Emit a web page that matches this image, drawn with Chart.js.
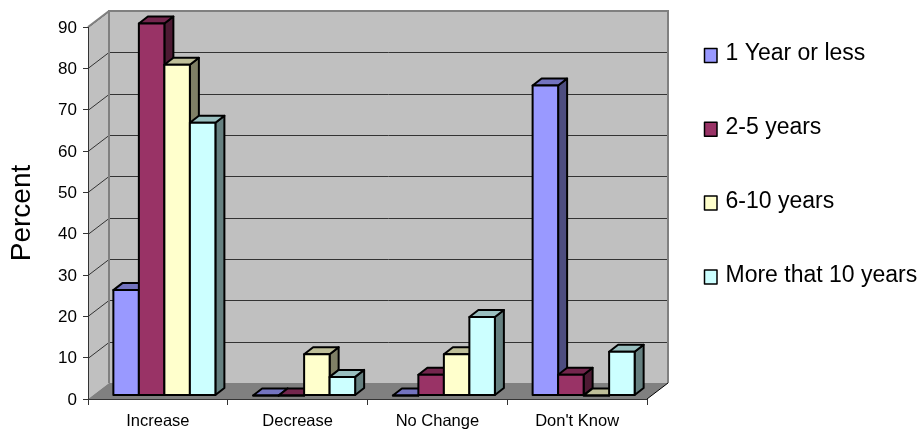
<!DOCTYPE html>
<html>
<head>
<meta charset="utf-8">
<style>
  html, body { margin: 0; padding: 0; background: #fff; }
  #wrap { width: 922px; height: 433px; }
</style>
<script src="https://cdn.jsdelivr.net/npm/chart.js@4"></script>
</head>
<body>
<div id="wrap"><canvas id="chart" width="922" height="433"></canvas></div>
<script>
var categories = ['Increase', 'Decrease', 'No Change', "Don't Know"];
var seriesNames = ['1 Year or less', '2-5 years', '6-10 years', 'More that 10 years'];
var oneYearOrLess = [25.5, 0, 0, 75];
var twoToFive = [90, 0, 5, 5];
var sixToTen = [80, 10, 10, 0];
var moreThanTen = [66, 4.5, 19, 10.6];
var yTicks = [0, 10, 20, 30, 40, 50, 60, 70, 80, 90];

var fronts = ['#9999ff', '#993366', '#ffffcc', '#ccffff'];
var tops = ['#7373bf', '#73264d', '#bfbf99', '#99bfbf'];
var sides = ['#4d4d80', '#4d1a33', '#808066', '#668080'];
var allValues = [oneYearOrLess, twoToFive, sixToTen, moreThanTen];

var FONT = '"Liberation Sans", Arial, sans-serif';

// depth of the room, and where the bars stand inside it
var DEPTH_X = 21, DEPTH_Y = -16;
var BAR_X = 6.5, BAR_Y = -3.5;
var BAR_DX = 9, BAR_DY = -7;
var BAR_LINE = 2;

function poly(ctx, pts, fill, stroke, lw) {
  ctx.beginPath();
  ctx.moveTo(pts[0][0], pts[0][1]);
  for (var i = 1; i < pts.length; i++) {
    ctx.lineTo(pts[i][0], pts[i][1]);
  }
  ctx.closePath();
  if (fill) {
    ctx.fillStyle = fill;
    ctx.fill();
  }
  if (stroke) {
    ctx.strokeStyle = stroke;
    ctx.lineWidth = lw;
    ctx.lineJoin = 'round';
    ctx.stroke();
  }
}

var roomPlugin = {
  id: 'room',
  beforeDraw: function(chart) {
    var ctx = chart.ctx, a = chart.chartArea;
    var l = a.left, r = a.right, t = a.top, b = a.bottom;
    var dx = DEPTH_X, dy = DEPTH_Y;
    ctx.save();
    // side wall, back wall, floor
    poly(ctx, [[l, t], [l + dx, t + dy], [l + dx, b + dy], [l, b]], '#c0c0c0');
    poly(ctx, [[l + dx, t + dy], [r + dx, t + dy], [r + dx, b + dy], [l + dx, b + dy]], '#c0c0c0');
    poly(ctx, [[l, b], [l + dx, b + dy], [r + dx, b + dy], [r, b]], '#808080');

    // grid lines run across the side wall and then the back wall
    var ys = chart.scales.y;
    ctx.strokeStyle = '#333333';
    ctx.lineWidth = 1;
    yTicks.forEach(function(v) {
      if (v === 0) return;
      var y = Math.round(ys.getPixelForValue(v)) + 0.5;
      ctx.beginPath();
      ctx.moveTo(l, y);
      ctx.lineTo(l + dx, y + dy);
      ctx.lineTo(r + dx, y + dy);
      ctx.stroke();
    });

    // wall outline
    ctx.strokeStyle = '#808080';
    ctx.lineWidth = 2;
    ctx.beginPath();
    ctx.moveTo(l + dx, b + dy);
    ctx.lineTo(l + dx, t + dy);
    ctx.lineTo(r + dx, t + dy);
    ctx.lineTo(r + dx, b + dy);
    ctx.moveTo(l, t);
    ctx.lineTo(l + dx, t + dy);
    ctx.stroke();
    ctx.restore();
  },
  // series go back to front, so each bar's side is hidden by the next one
  beforeDatasetsDraw: function(chart) {
    var ctx = chart.ctx;
    ctx.save();
    ctx.translate(BAR_X, BAR_Y);
    seriesNames.forEach(function(name, i) {
      var meta = chart.getDatasetMeta(i);
      meta.data.forEach(function(bar) {
        var x0 = bar.x - bar.width / 2, x1 = bar.x + bar.width / 2;
        var y0 = bar.y, yb = bar.base;
        poly(ctx, [[x1, y0], [x1 + BAR_DX, y0 + BAR_DY], [x1 + BAR_DX, yb + BAR_DY], [x1, yb]], sides[i], '#000000', BAR_LINE);
        poly(ctx, [[x0, y0], [x0 + BAR_DX, y0 + BAR_DY], [x1 + BAR_DX, y0 + BAR_DY], [x1, y0]], tops[i], '#000000', BAR_LINE);
      });
      meta.controller.draw();
      // outline sits centred on the bar's edge so neighbours share one line
      meta.data.forEach(function(bar) {
        var x0 = bar.x - bar.width / 2, x1 = bar.x + bar.width / 2;
        poly(ctx, [[x0, bar.y], [x1, bar.y], [x1, bar.base], [x0, bar.base]], null, '#000000', BAR_LINE);
      });
    });
    ctx.restore();
    return false;
  },
  afterDraw: function(chart) {
    // floor edge at the right hand side
    var ctx = chart.ctx, a = chart.chartArea;
    ctx.save();
    ctx.strokeStyle = '#000000';
    ctx.lineWidth = 1;
    ctx.beginPath();
    ctx.moveTo(a.right, a.bottom);
    ctx.lineTo(a.right + DEPTH_X, a.bottom + DEPTH_Y);
    ctx.stroke();
    ctx.restore();

    // legend
    ctx.save();
    ctx.font = '23px ' + FONT;
    ctx.textBaseline = 'middle';
    ctx.textAlign = 'left';
    seriesNames.forEach(function(name, i) {
      var y = 54 + i * 73.8;
      poly(ctx, [[704.5, y - 5.5], [717, y - 5.5], [717, y + 8.5], [704.5, y + 8.5]], fronts[i], '#000000', 1.5);
      ctx.fillStyle = '#000000';
      ctx.fillText(name, 725.5, y);
    });
    ctx.restore();
  }
};

new Chart(document.getElementById('chart'), {
  type: 'bar',
  data: {
    labels: categories,
    datasets: seriesNames.map(function(name, i) {
      return {
        label: name,
        data: allValues[i],
        backgroundColor: fronts[i],
        borderWidth: 0,
        barPercentage: 1,
        categoryPercentage: 0.73
      };
    })
  },
  plugins: [roomPlugin],
  options: {
    responsive: false,
    animation: false,
    layout: { padding: { left: 0, right: 275, top: 27, bottom: 0 } },
    plugins: { legend: { display: false }, tooltip: { enabled: false } },
    scales: {
      x: {
        afterFit: function(s) { s.height = 34; },
        border: { color: '#333333', width: 1 },
        grid: { drawOnChartArea: false, color: '#333333', tickLength: 6 },
        ticks: { color: '#000000', font: { family: FONT, size: 16.5 }, padding: 7, maxRotation: 0 }
      },
      y: {
        min: 0,
        max: 90,
        afterFit: function(s) { s.width = 88; },
        afterBuildTicks: function(s) { s.ticks = yTicks.map(function(v) { return { value: v }; }); },
        border: { color: '#333333', width: 1 },
        grid: { drawOnChartArea: false, color: '#333333', tickLength: 5 },
        ticks: { color: '#000000', font: { family: FONT, size: 17 }, padding: 6, labelOffset: 1 },
        title: { display: true, text: 'Percent', color: '#000000', font: { family: FONT, size: 28 }, padding: { top: 5, bottom: 0 } }
      }
    }
  }
});
</script>
</body>
</html>
